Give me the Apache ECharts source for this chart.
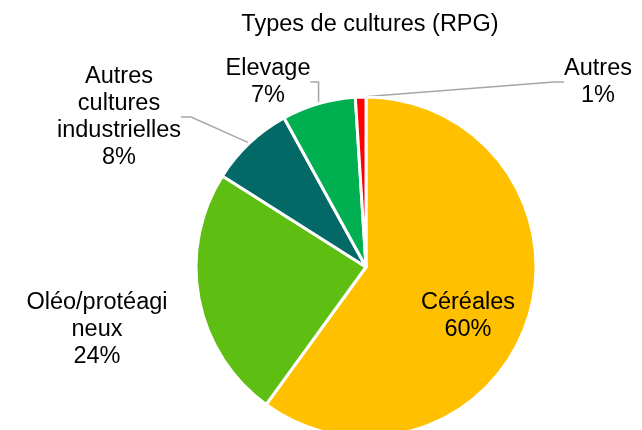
<!DOCTYPE html>
<html>
<head>
<meta charset="utf-8">
<script src="https://cdn.jsdelivr.net/npm/echarts@6/dist/echarts.min.js"></script>
<style>
  html, body { margin: 0; padding: 0; background: #fff; }
  #chart { width: 642px; height: 430px; }
</style>
</head>
<body>
<div id="chart"></div>
<script>
// Répartition des types de cultures (RPG), en %
const categories = ['Céréales', 'Oléo/protéagi\nneux', 'Autres\ncultures\nindustrielles', 'Elevage', 'Autres'];
const shares = [60, 24, 8, 7, 1];
const colors = ['#FFC000', '#5FBE12', '#036966', '#00B050', '#FF0000'];

// Label anchor points (centre of each text block)
const labelSpots = [
  { x: 468, y: 316 },
  { x: 97, y: 330 },
  { x: 119, y: 117 },
  { x: 268, y: 82 },
  { x: 598, y: 82 }
];

const chart = echarts.init(document.getElementById('chart'), null, { renderer: 'canvas' });

const data = categories.map((name, i) => {
  const item = { name: name, value: shares[i], itemStyle: { color: colors[i] } };
  if (i === 0) item.label = { position: 'inside' };
  if (i === 1) item.labelLine = { show: false };
  return item;
});

chart.setOption({
  animation: false,
  title: {
    text: 'Types de cultures (RPG)',
    left: 365,
    top: 8,
    textAlign: 'center',
    textStyle: { fontFamily: 'Liberation Sans', fontSize: 23.5, fontWeight: 'normal', color: '#000' }
  },
  series: [{
    type: 'pie',
    center: [366, 267],
    radius: 170,
    startAngle: 90,
    clockwise: true,
    avoidLabelOverlap: false,
    itemStyle: { borderColor: '#fff', borderWidth: 3 },
    label: {
      show: true,
      position: 'outside',
      formatter: p => p.name + '\n' + Math.round(p.percent) + '%',
      fontFamily: 'Liberation Sans',
      fontSize: 23.5,
      lineHeight: 27,
      color: '#000',
      align: 'center'
    },
    labelLine: {
      show: true,
      length: 15,
      length2: 10,
      lineStyle: { color: '#A6A6A6', width: 1.5 }
    },
    labelLayout: params => {
      const s = labelSpots[params.dataIndex];
      return { x: s.x, y: s.y, align: 'center', verticalAlign: 'middle' };
    },
    data: data
  }]
});
</script>
</body>
</html>
